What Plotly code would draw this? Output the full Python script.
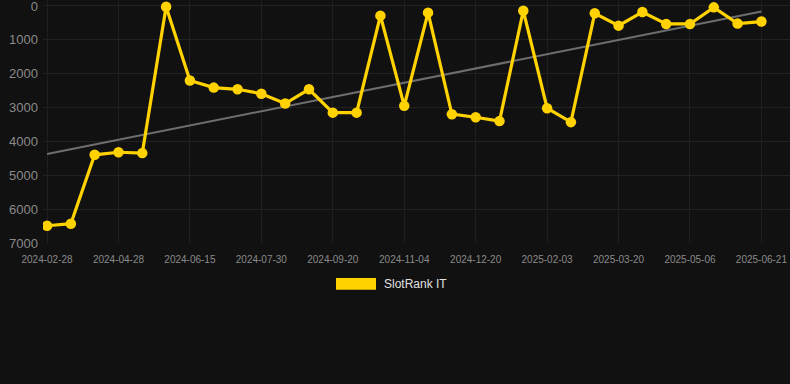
import numpy as np
import plotly.graph_objects as go

dates = ["2024-02-28", "2024-03-19", "2024-04-08", "2024-04-28", "2024-05-14", "2024-05-30",
         "2024-06-15", "2024-06-30", "2024-07-15", "2024-07-30", "2024-08-17", "2024-09-03",
         "2024-09-20", "2024-10-05", "2024-10-20", "2024-11-04", "2024-11-19", "2024-12-05",
         "2024-12-20", "2025-01-04", "2025-01-19", "2025-02-03", "2025-02-18", "2025-03-05",
         "2025-03-20", "2025-04-04", "2025-04-20", "2025-05-06", "2025-05-21", "2025-06-05",
         "2025-06-21"]
ranks = [6490, 6430, 4395, 4320, 4345, 20, 2200, 2410, 2460, 2590, 2880, 2460,
         3150, 3150, 285, 2950, 197, 3195, 3285, 3400, 140, 3020, 3430, 216,
         580, 177, 530, 530, 40, 520, 460]
tick_labels = dates[::3]
y_ticks = [0, 1000, 2000, 3000, 4000, 5000, 6000, 7000]
series_name = "SlotRank IT"

idx = np.arange(len(dates))
slope, intercept = np.polyfit(idx, ranks, 1)
trend = slope * idx + intercept

gold = "#FFD200"
W, H = 790, 384
ML, MT, MB = 43, 0, 140.7
PW, PH = W - ML, H - MT - MB

fig = go.Figure()
fig.add_trace(go.Scatter(x=dates, y=trend, mode="lines",
                         line=dict(color="#6e6e6e", width=2), showlegend=False, hoverinfo="skip"))
fig.add_trace(go.Scatter(x=dates, y=ranks, mode="lines+markers", name=series_name,
                         line=dict(color=gold, width=3.2), marker=dict(color=gold, size=10.5),
                         showlegend=False))

fig.update_layout(
    width=W, height=H,
    margin=dict(l=ML, r=0, t=MT, b=MB, pad=0),
    paper_bgcolor="#111111", plot_bgcolor="#111111",
    font=dict(family="Liberation Sans, Arial, sans-serif", color="#8a8a8a"),
    xaxis=dict(type="category", range=[-0.17, 31.2], tickmode="array",
               tickvals=tick_labels, ticktext=tick_labels,
               tickfont=dict(size=10, color="#8a8a8a"), showgrid=True,
               gridcolor="#1f1f1f", zeroline=False, showline=False, ticks="",
               ticklabelstandoff=9, ticklabeloverflow="allow"),
    yaxis=dict(range=[7000, -177], tickvals=y_ticks, tickfont=dict(size=13, color="#8a8a8a"),
               showgrid=True, gridcolor="#222222", zeroline=False, ticks="",
               ticklabelstandoff=4, ticklabeloverflow="allow"),
    showlegend=False,
    shapes=[dict(type="rect", xref="paper", yref="paper",
                 x0=(336 - ML) / PW, x1=(376 - ML) / PW,
                 y0=(H - MB - 290) / PH, y1=(H - MB - 278.3) / PH,
                 fillcolor=gold, line=dict(width=0))],
    annotations=[dict(text=series_name, xref="paper", yref="paper",
                      x=(382 - ML) / PW, y=(H - MB - 284.5) / PH,
                      xanchor="left", yanchor="middle", showarrow=False,
                      font=dict(size=12, color="#e0e0e0"))],
)
fig.write_html("out.html", config={"displayModeBar": False},
               post_script="document.body.style.margin='0';document.body.style.background='#111111';")
